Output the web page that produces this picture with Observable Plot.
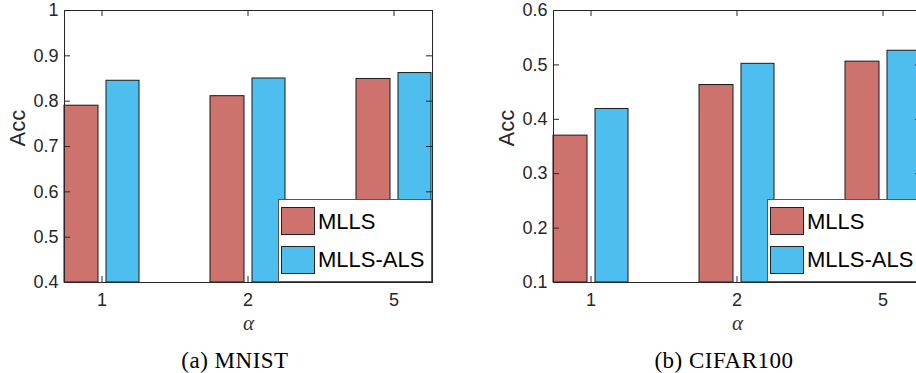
<!DOCTYPE html>
<html><head><meta charset="utf-8">
<script src="https://cdn.jsdelivr.net/npm/d3@7"></script>
<script src="https://cdn.jsdelivr.net/npm/@observablehq/plot@0.6"></script>
<style>
html,body{margin:0;padding:0;background:#fff;width:916px;height:373px;overflow:hidden;position:relative;}
.panel{position:absolute;top:0;width:440px;height:373px;}
.panel svg{position:absolute;left:0;top:0;}
.legend{position:absolute;left:278px;top:199px;width:154px;height:83px;background:#fff;border:1px solid #555;box-sizing:border-box;font-family:"Liberation Sans",Arial,sans-serif;font-size:22px;color:#000;}
.sw{position:absolute;left:2px;width:34px;height:28px;border:1px solid #222;box-sizing:border-box;}
.lt{position:absolute;left:39px;line-height:1;white-space:nowrap;}
.caption{position:absolute;left:0;width:470px;top:349px;text-align:center;font-family:"Liberation Serif","Times New Roman",serif;font-size:23px;letter-spacing:0.5px;line-height:1;color:#000;white-space:nowrap;}
</style>
</head><body>
<div id="pa" class="panel" style="left:0px"></div>
<div id="pb" class="panel" style="left:489px"></div>
<script>
// ---- data ----
const alphas = ["1", "2", "5"];
const series = ["MLLS", "MLLS-ALS"];
const seriesColors = ["#CD726C", "#4DBEEE"];

const mnistMLLS = [0.790, 0.811, 0.849];
const mnistALS  = [0.845, 0.850, 0.862];
const mnistYDomain = [0.4, 1];
const mnistYTicks = [0.4, 0.5, 0.6, 0.7, 0.8, 0.9, 1];
const mnistYTickLabels = ["0.4", "0.5", "0.6", "0.7", "0.8", "0.9", "1"];

const cifarMLLS = [0.370, 0.463, 0.506];
const cifarALS  = [0.419, 0.502, 0.526];
const cifarYDomain = [0.1, 0.6];
const cifarYTicks = [0.1, 0.2, 0.3, 0.4, 0.5, 0.6];
const cifarYTickLabels = ["0.1", "0.2", "0.3", "0.4", "0.5", "0.6"];

const yTitle = "Acc";
const xTitle = "α";
const captions = ["(a) MNIST", "(b) CIFAR100"];

const axisColor = "#262626";

function makePanel(mlls, als, yDomain, yTicks, yTickLabels) {
  const rows = alphas.flatMap((a, i) => [
    {alpha: a, series: series[0], value: mlls[i]},
    {alpha: a, series: series[1], value: als[i]}
  ]);
  const W = 440, H = 340, ml = 64, mr = 8, mt = 10, mb = 58;
  const pw = W - ml - mr, ph = H - mt - mb;
  return Plot.plot({
    width: W, height: H,
    marginLeft: ml, marginRight: mr, marginTop: mt, marginBottom: mb,
    style: {fontFamily: "'Liberation Sans', Arial, sans-serif", color: axisColor, background: "transparent", overflow: "visible"},
    x: {domain: alphas, paddingInner: 0.486, paddingOuter: 0, axis: null},
    y: {domain: yDomain, axis: null},
    color: {domain: series, range: seriesColors},
    marks: [
      Plot.barY(rows.filter(d => d.series === series[0]), {x: "alpha", y1: yDomain[0], y2: "value", fill: "series", stroke: "#1a1a1a", strokeWidth: 1, insetRight: 41}),
      Plot.barY(rows.filter(d => d.series === series[1]), {x: "alpha", y1: yDomain[0], y2: "value", fill: "series", stroke: "#1a1a1a", strokeWidth: 1, insetLeft: 42}),
      Plot.tickY(yTicks, {y: d => d, insetRight: pw - 6, stroke: axisColor}),
      Plot.tickY(yTicks, {y: d => d, insetLeft: pw - 6, stroke: axisColor}),
      Plot.tickX(alphas, {x: d => d, insetBottom: ph - 6, stroke: axisColor}),
      Plot.tickX(alphas, {x: d => d, insetTop: ph - 6, stroke: axisColor}),
      Plot.frame({stroke: axisColor, strokeWidth: 1}),
      Plot.axisY(yTicks, {tickSize: 0, tickPadding: 6, fontSize: 18, fill: axisColor, label: null,
        tickFormat: d => yTickLabels[yTicks.indexOf(d)]}),
      Plot.axisX(alphas, {tickSize: 0, tickPadding: 11, fontSize: 18, fill: axisColor, label: null}),
      Plot.text([yTitle], {text: d => d, frameAnchor: "left", dx: -47, rotate: -90, fontSize: 22, fill: axisColor}),
      Plot.text([xTitle], {text: d => d, frameAnchor: "bottom", dy: 47, fontSize: 21, fontStyle: "italic",
        fontFamily: "'Liberation Serif', 'Times New Roman', serif", fill: "#333"})
    ]
  });
}

function addExtras(container, caption) {
  const lg = document.createElement("div");
  lg.className = "legend";
  series.forEach((s, i) => {
    const sw = document.createElement("div");
    sw.className = "sw";
    sw.style.top = (7 + i * 38.7) + "px";
    sw.style.background = seriesColors[i];
    lg.appendChild(sw);
    const t = document.createElement("div");
    t.className = "lt";
    t.style.top = (11 + i * 38) + "px";
    t.textContent = s;
    lg.appendChild(t);
  });
  container.appendChild(lg);
  const cap = document.createElement("div");
  cap.className = "caption";
  cap.textContent = caption;
  container.appendChild(cap);
}

const pa = document.getElementById("pa");
pa.appendChild(makePanel(mnistMLLS, mnistALS, mnistYDomain, mnistYTicks, mnistYTickLabels));
addExtras(pa, captions[0]);
const pb = document.getElementById("pb");
pb.appendChild(makePanel(cifarMLLS, cifarALS, cifarYDomain, cifarYTicks, cifarYTickLabels));
addExtras(pb, captions[1]);
</script>
</body></html>
